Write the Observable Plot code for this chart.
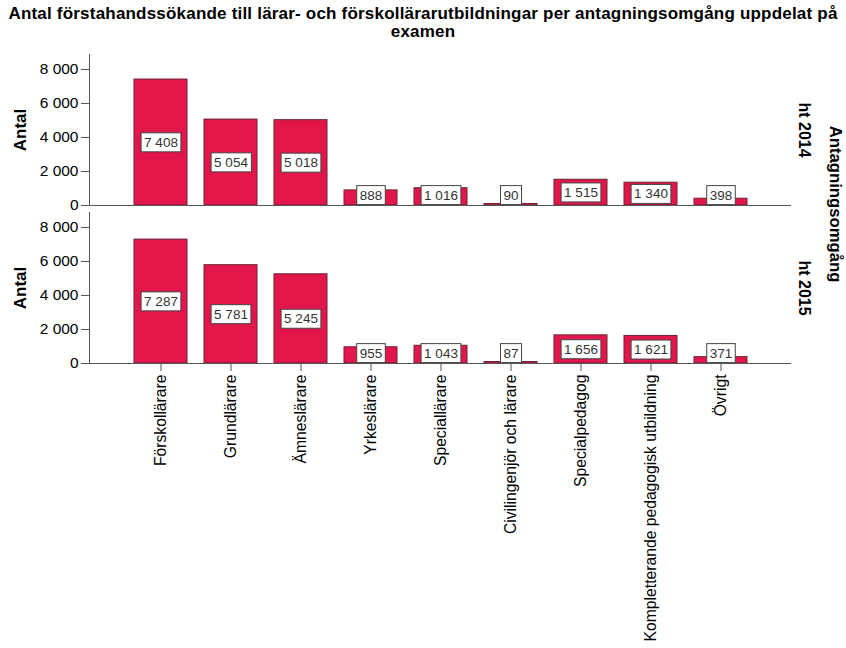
<!DOCTYPE html>
<html>
<head>
<meta charset="utf-8">
<script src="https://cdn.jsdelivr.net/npm/d3@7"></script>
<script src="https://cdn.jsdelivr.net/npm/@observablehq/plot@0.6"></script>
<style>
  html, body { margin: 0; padding: 0; background: #fff; }
  body { position: relative; width: 846px; height: 648px; overflow: hidden; font-family: "Liberation Sans", Arial, sans-serif; }
  #title { box-sizing: border-box; height: 45px; padding-top: 5px; text-align: center; font-weight: bold; font-size: 17px; letter-spacing: 0.2px; line-height: 18px; white-space: nowrap; color: #000; }
  #legendTitle { position: absolute; left: 835px; top: 204px; transform: translate(-50%, -50%) rotate(90deg); font-weight: bold; font-size: 16.7px; white-space: nowrap; color: #000; }
</style>
</head>
<body>
<div id="title">Antal förstahandssökande till lärar- och förskollärarutbildningar per antagningsomgång uppdelat på<br>examen</div>
<div id="legendTitle">Antagningsomgång</div>
<div id="chart"></div>
<script>
const categories = ["Förskollärare", "Grundlärare", "Ämneslärare", "Yrkeslärare", "Speciallärare", "Civilingenjör och lärare", "Specialpedagog", "Kompletterande pedagogisk utbildning", "Övrigt"];
const rounds = ["ht 2014", "ht 2015"];
const ht2014 = [7408, 5054, 5018, 888, 1016, 90, 1515, 1340, 398];
const ht2015 = [7287, 5781, 5245, 955, 1043, 87, 1656, 1621, 371];
const yTicks = [0, 2000, 4000, 6000, 8000];

const locale = d3.formatLocale({decimal: ",", thousands: "\u00a0", grouping: [3], currency: ["", ""]});
const fmt = locale.format(",d");

const data = [];
categories.forEach((c, i) => data.push({cat: c, round: rounds[0], value: ht2014[i]}));
categories.forEach((c, i) => data.push({cat: c, round: rounds[1], value: ht2015[i]}));

const chart = Plot.plot({
  width: 846,
  height: 603,
  marginLeft: 89,
  marginRight: 55,
  marginTop: 8,
  marginBottom: 285,
  style: {fontFamily: "'Liberation Sans', Arial, sans-serif", background: "#fff", color: "#000"},
  x: {domain: categories, paddingInner: 0.245, paddingOuter: 0.62, label: null},
  y: {domain: [0, 8880], label: null},
  fy: {domain: rounds, paddingInner: 0.045, paddingOuter: 0, label: null},
  marks: [
    Plot.barY(data, {x: "cat", y: "value", fy: "round", fill: "#E3164B", stroke: "#6b2333", strokeWidth: 1}),
    Plot.ruleY([0], {stroke: "#555", strokeWidth: 1}),
    Plot.frame({anchor: "left", stroke: "#555"}),
    Plot.axisY({ticks: yTicks, tickFormat: fmt, tickSize: 8, tickPadding: 3, fontSize: 15.5, label: null, stroke: "#555"}),
    Plot.axisX({anchor: "bottom", tickRotate: -90, tickSize: 8, tickPadding: 3, fontSize: 15.7, label: null, stroke: "#555"}),
    Plot.axisFy({ticks: [], label: null}),
    Plot.text(["Antal"], {frameAnchor: "left", textAnchor: "middle", rotate: -90, dx: -69, text: d => d, fontWeight: "bold", fontSize: 17, fill: "#000"}),
    Plot.text(rounds, {fy: d => d, text: d => d, frameAnchor: "right", textAnchor: "middle", rotate: 90, dx: 13, fontWeight: "bold", fontSize: 16, fill: "#000"}),
    Plot.text(data, {x: "cat", y: d => Math.max(d.value / 2, 600), fy: "round", text: d => fmt(d.value), fontSize: 13.5, fill: "#333"})
  ]
});
document.getElementById("chart").appendChild(chart);

// white boxes behind the value labels
const labelSet = new Set(data.map(d => fmt(d.value)));
const svg = chart.tagName.toLowerCase() === "svg" ? chart : chart.querySelector("svg");
Array.from(svg.querySelectorAll("text")).forEach(t => {
  if (!labelSet.has(t.textContent)) return;
  const b = t.getBBox();
  const r = document.createElementNS("http://www.w3.org/2000/svg", "rect");
  r.setAttribute("x", b.x - 3);
  r.setAttribute("y", b.y - 2);
  r.setAttribute("width", b.width + 6);
  r.setAttribute("height", b.height + 4);
  r.setAttribute("fill", "#fff");
  r.setAttribute("stroke", "#444");
  r.setAttribute("stroke-width", "1");
  const tr = t.getAttribute("transform");
  if (tr) r.setAttribute("transform", tr);
  t.parentNode.insertBefore(r, t);
});
</script>
</body>
</html>
